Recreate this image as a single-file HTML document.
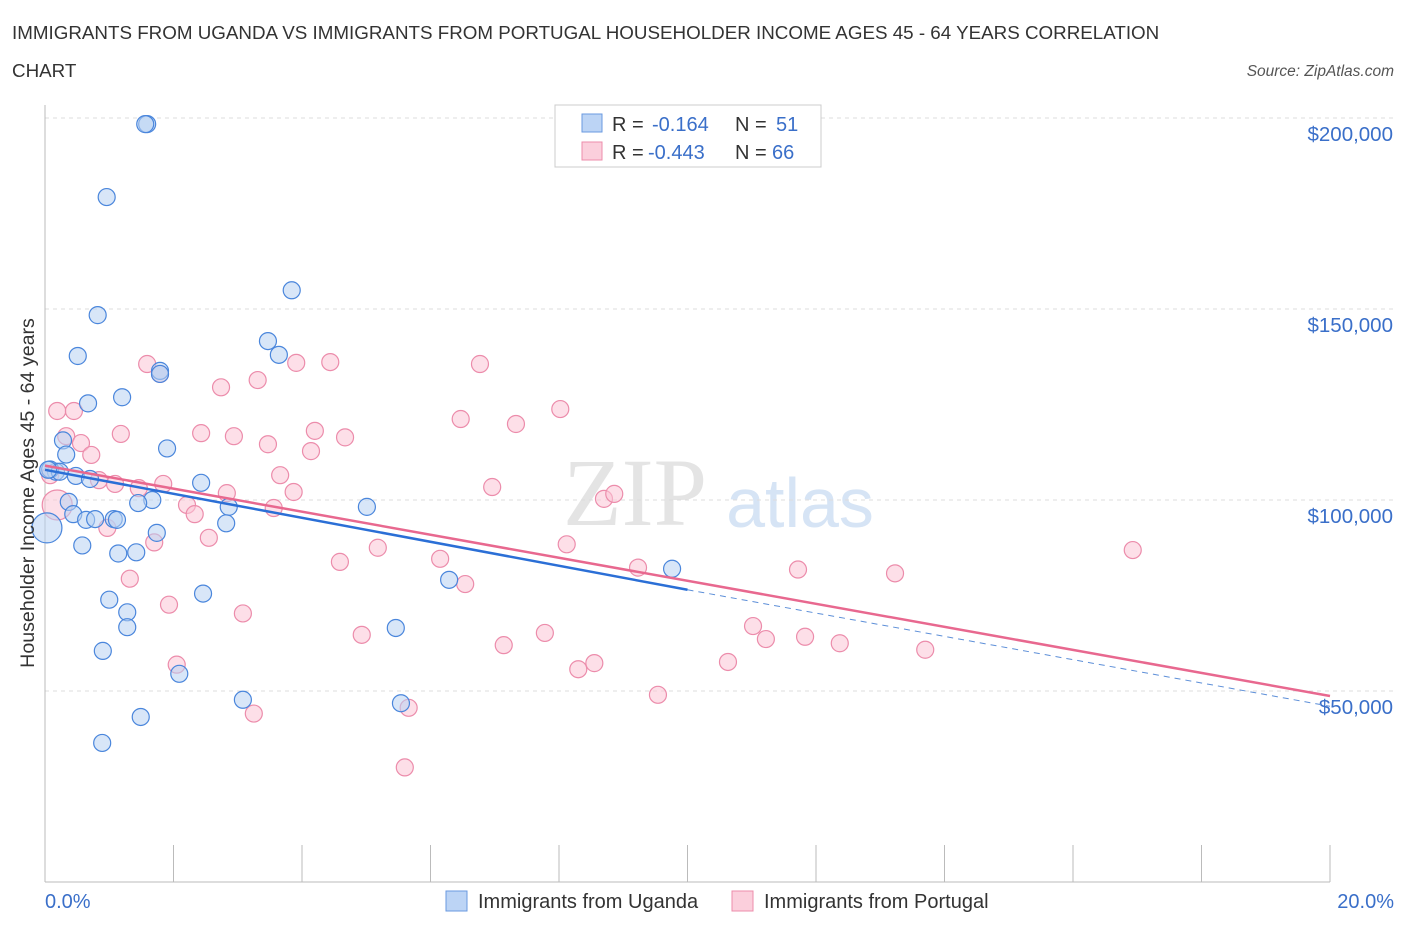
<!DOCTYPE html>
<html><head><meta charset="utf-8"><style>
body{margin:0;background:#fff;font-family:"Liberation Sans",sans-serif;}
</style></head><body>
<svg width="1406" height="930" xmlns="http://www.w3.org/2000/svg" font-family="Liberation Sans, sans-serif">
<text x="12" y="39" font-size="18.8" fill="#333">IMMIGRANTS FROM UGANDA VS IMMIGRANTS FROM PORTUGAL HOUSEHOLDER INCOME AGES 45 - 64 YEARS CORRELATION</text>
<text x="12" y="77" font-size="18.8" fill="#333">CHART</text>
<text x="1394" y="76" font-size="15.5" fill="#555" font-style="italic" text-anchor="end">Source: ZipAtlas.com</text>
<text x="635" y="525" font-size="96" fill="#e4e4e4" font-family="Liberation Serif, serif" text-anchor="middle">ZIP</text>
<text x="800" y="527" font-size="70" fill="#d6e4f5" text-anchor="middle">atlas</text>
<g id="grid"></g>
<g id="axes"></g>
<g id="pts"></g>
<g id="trends"></g>
<text transform="translate(34,493) rotate(-90)" font-size="19.6" fill="#333" text-anchor="middle">Householder Income Ages 45 - 64 years</text>
<text x="45" y="908" font-size="20" fill="#3a6fc9">0.0%</text>
<text x="1394" y="908" font-size="20" fill="#3a6fc9" text-anchor="end">20.0%</text>
<g>
<rect x="555" y="105" width="266" height="62" fill="#fff" stroke="#ccc"/>
<rect x="582" y="114" width="20" height="18" fill="#bcd4f5" stroke="#6a9ae0"/>
<rect x="582" y="142" width="20" height="18" fill="#fbcfdc" stroke="#ec8cab"/>
<text x="612" y="131" font-size="20" fill="#333">R =</text>
<text x="652" y="131" font-size="20" fill="#3a6fc9">-0.164</text>
<text x="735" y="131" font-size="20" fill="#333">N =</text>
<text x="776" y="131" font-size="20" fill="#3a6fc9">51</text>
<text x="612" y="159" font-size="20" fill="#333">R =</text>
<text x="648" y="159" font-size="20" fill="#3a6fc9">-0.443</text>
<text x="735" y="159" font-size="20" fill="#333">N =</text>
<text x="772" y="159" font-size="20" fill="#3a6fc9">66</text>
</g>
<g>
<rect x="446" y="891" width="21" height="20" fill="#bcd4f5" stroke="#6a9ae0"/>
<text x="478" y="908" font-size="20" fill="#333">Immigrants from Uganda</text>
<rect x="732" y="891" width="21" height="20" fill="#fbcfdc" stroke="#ec8cab"/>
<text x="764" y="908" font-size="20" fill="#333">Immigrants from Portugal</text>
</g>
</svg>
<script>
const yTicks=[50000,100000,150000,200000];
const yTickLabels=["$50,000","$100,000","$150,000","$200,000"];
const ugandaX=[1.59,1.56,0.96,3.84,0.82,3.47,3.64,0.51,1.79,1.79,1.2,0.67,1.9,0.28,0.33,0.17,0.08,0.23,0.48,0.7,2.43,1.67,1.45,0.37,2.86,5.01,0.44,0.64,0.78,1.07,1.12,1.74,2.82,0.58,1.14,1.42,6.29,9.76,2.46,1.0,1.28,1.28,5.46,0.9,2.09,3.08,5.54,1.49,0.89,0.03,0.05];
const ugandaY=[198400,198400,179300,154900,148400,141600,138000,137700,133800,133000,126900,125300,113500,115600,111900,107400,108000,107400,106300,105500,104500,100000,99200,99500,98200,98200,96300,94800,95000,95000,94800,91400,93900,88100,86000,86300,79100,82000,75500,73900,70600,66700,66500,60500,54500,47700,46800,43200,36400,92700,107900];
const portugalX=[0.19,0.45,0.33,0.56,0.72,0.19,0.08,0.84,1.09,1.18,1.59,1.79,2.43,2.74,2.94,3.31,3.47,3.91,4.2,4.14,4.44,4.67,3.66,3.87,3.56,2.83,2.21,2.33,1.84,1.46,0.97,2.55,1.7,1.32,1.93,2.05,3.08,3.25,4.59,4.93,5.18,5.6,5.66,6.15,6.54,6.47,6.77,6.96,7.14,7.33,7.78,8.02,8.12,8.3,8.55,8.7,8.86,9.23,9.54,10.63,11.02,11.22,11.72,11.83,12.37,13.23,13.7,16.93];
const portugalY=[123300,123300,116700,114900,111800,98700,106500,105200,104200,117300,135600,133000,117500,129500,116700,131400,114600,135900,118100,112800,136100,116400,106500,102100,97900,101800,98700,96300,104200,103100,92700,90100,88900,79400,72600,56900,70300,44100,83800,64700,87500,30000,45600,84600,78000,121200,135600,103400,62000,119900,65200,123800,88400,55700,57300,100300,101600,82300,49000,57600,67000,63600,81800,64200,62500,80800,60800,86900];
const ugTrend=[[0,107900],[10,76500]];
const ugTrendDash=[[10,76500],[20,46000]];
const ptTrend=[[0,109000],[20,48700]];
const X=p=>45+p*1285/20, Y=v=>500-(v-100000)*191/50000;
const NS="http://www.w3.org/2000/svg";
function mk(t,a,parent){const e=document.createElementNS(NS,t);for(const k in a)e.setAttribute(k,a[k]);document.getElementById(parent).appendChild(e);return e;}
yTicks.forEach((v,i)=>{
 const l=mk('line',{x1:45,x2:1394,y1:Y(v),y2:Y(v),stroke:'#ddd','stroke-dasharray':'4,4'},'grid');
 
 
 const t=mk('text',{x:1393,y:Y(v)+23,'font-size':20.5,fill:'#3a6fc9','text-anchor':'end'},'grid');
 t.textContent=yTickLabels[i];
 
 
});
const la=mk('line',{x1:45,x2:45,y1:105,y2:882,stroke:'#bbb'},'axes');


const xa=mk('line',{x1:45,x2:1330,y1:882,y2:882,stroke:'#bbb'},'axes');


for(let i=0;i<=10;i++){const t=mk('line',{x1:X(i*2),x2:X(i*2),y1:845,y2:882,stroke:'#bbb'},'axes');
 
 }
function pts(xs,ys,fill,stroke,name){xs.forEach((x,i)=>{
 const big=(name==='uganda-point'&&i===49)||(name==='portugal-point'&&i===5);
 const c=mk('circle',{cx:X(x),cy:Y(ys[i]),r:big?15:8.5,fill:fill,'fill-opacity':0.55,stroke:stroke,'stroke-width':1.2},'pts');
 
 });}
pts(portugalX,portugalY,'#fbc5d5','#ec8cab','portugal-point');
pts(ugandaX,ugandaY,'#b8d2f3','#4a86dc','uganda-point');
function ln(p,st,w,dash,name){const l=mk('line',{x1:X(p[0][0]),y1:Y(p[0][1]),x2:X(p[1][0]),y2:Y(p[1][1]),stroke:st,'stroke-width':w},'trends');
 if(dash)l.setAttribute('stroke-dasharray',dash);
 
 }
ln(ptTrend,'#e8688f',2.5,null,'portugal-trend-line');
ln(ugTrend,'#2b6fd6',2.5,null,'uganda-trend-line');
ln(ugTrendDash,'#5d8fd8',1,'6,5','uganda-trend-extension');
</script>
</body></html>
